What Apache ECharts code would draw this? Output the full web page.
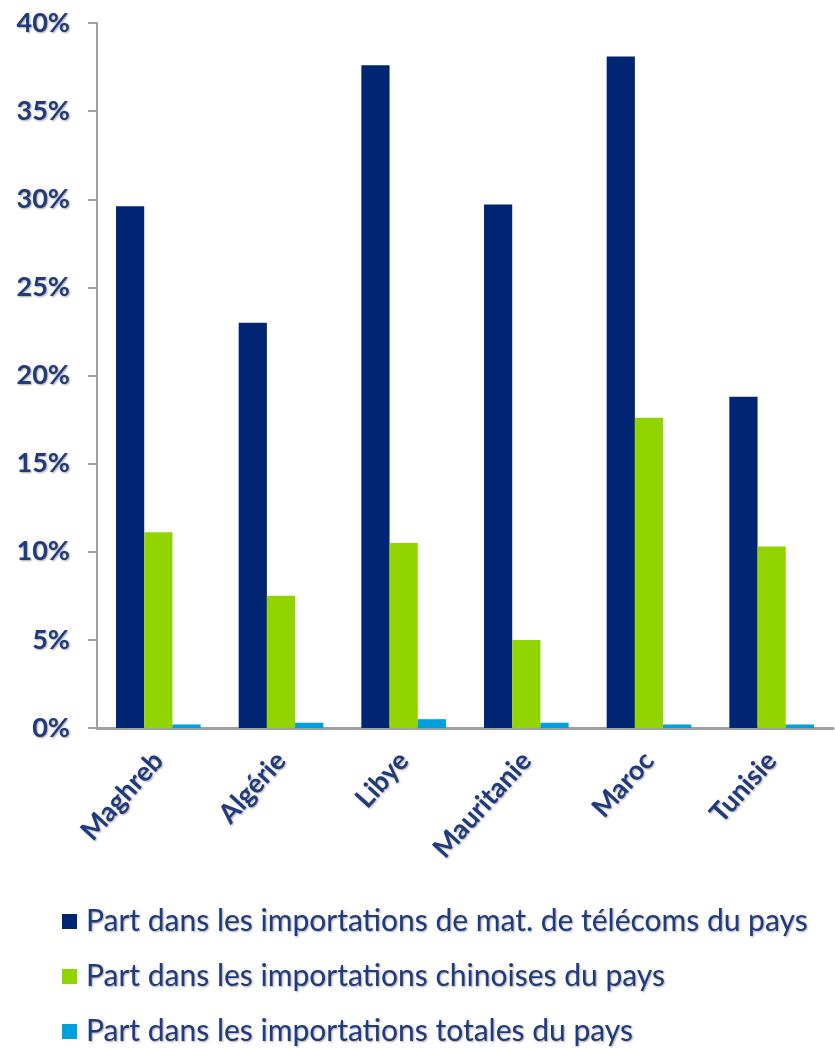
<!DOCTYPE html>
<html>
<head>
<meta charset="utf-8">
<script src="https://cdn.jsdelivr.net/npm/echarts@6/dist/echarts.min.js"></script>
<style>
  html, body { margin: 0; padding: 0; background: #fff; }
  #chart { width: 835px; height: 1048px; }
</style>
</head>
<body>
<div id="chart"></div>
<script>
const countries = ['Maghreb', 'Algérie', 'Libye', 'Mauritanie', 'Maroc', 'Tunisie'];
const telecomShare = [29.6, 23.0, 37.6, 29.7, 38.1, 18.8];
const chineseShare = [11.1, 7.5, 10.5, 5.0, 17.6, 10.3];
const totalShare = [0.2, 0.3, 0.5, 0.3, 0.2, 0.2];
const seriesNames = [
  'Part dans les importations de mat. de télécoms du pays',
  'Part dans les importations chinoises du pays',
  'Part dans les importations totales du pays'
];

const textColor = '#1f3a7d';
const shadow = { textShadowColor: 'rgba(0,0,0,0.35)', textShadowBlur: 2, textShadowOffsetX: 1, textShadowOffsetY: 1 };

const chart = echarts.init(document.getElementById('chart'));
chart.setOption({
  animation: false,
  grid: { left: 97, right: 2, top: 23, bottom: 320 },
  legend: {
    orient: 'vertical',
    left: 62,
    top: 904,
    height: 200,
    padding: 0,
    itemGap: 20,
    itemWidth: 15,
    itemHeight: 15,
    icon: 'rect',
    textStyle: Object.assign({ color: textColor, fontFamily: 'Lato', fontSize: 30, lineHeight: 35, padding: [0, 0, 0, 4] }, shadow),
    data: seriesNames
  },
  xAxis: {
    type: 'category',
    data: countries,
    axisLine: { lineStyle: { color: '#a0a0a0', width: 3 } },
    axisTick: { show: false },
    axisLabel: Object.assign({
      rotate: 48,
      margin: 28,
      color: textColor,
      fontFamily: 'Lato',
      fontWeight: 'bold',
      fontSize: 27
    }, shadow)
  },
  yAxis: {
    type: 'value',
    min: 0,
    max: 40,
    interval: 5,
    splitLine: { show: false },
    axisLine: { show: true, lineStyle: { color: '#a0a0a0', width: 2 } },
    axisTick: { show: true, length: 9, lineStyle: { color: '#a0a0a0', width: 2 } },
    axisLabel: Object.assign({
      formatter: '{value}%',
      margin: 27,
      color: textColor,
      fontFamily: 'Lato',
      fontWeight: 'bold',
      fontSize: 27
    }, shadow)
  },
  series: [
    { name: seriesNames[0], type: 'bar', data: telecomShare, barGap: '0%', barCategoryGap: '31%', itemStyle: { color: '#002673' } },
    { name: seriesNames[1], type: 'bar', data: chineseShare, itemStyle: { color: '#92d400' } },
    { name: seriesNames[2], type: 'bar', data: totalShare, itemStyle: { color: '#00a0dc' } }
  ]
});
</script>
</body>
</html>
